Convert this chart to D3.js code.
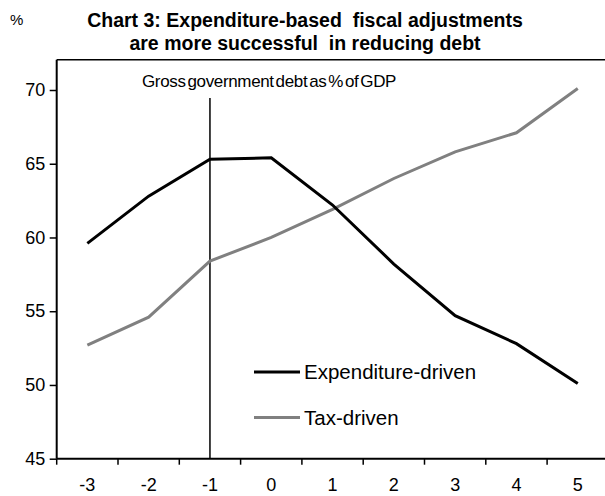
<!DOCTYPE html>
<html>
<head>
<meta charset="utf-8">
<script src="https://cdn.jsdelivr.net/npm/d3@7/dist/d3.min.js"></script>
<style>
  html, body { margin: 0; padding: 0; background: #fff; }
  svg { display: block; font-family: "Liberation Sans", Arial, sans-serif; }
</style>
</head>
<body>
<svg id="chart" width="605" height="496"></svg>
<script>
// Years relative to the start of the fiscal adjustment
const years = ["-3", "-2", "-1", "0", "1", "2", "3", "4", "5"];
// Gross government debt, % of GDP
const expenditureDriven = [59.6, 62.8, 65.3, 65.4, 62.2, 58.2, 54.7, 52.8, 50.1];
const taxDriven = [52.7, 54.6, 58.4, 60.0, 61.9, 64.0, 65.8, 67.1, 70.1];
const yTicks = [45, 50, 55, 60, 65, 70];
const seriesNames = ["Expenditure-driven", "Tax-driven"];
const markerYear = "-1";

(function draw() {
  const svg = d3.select("#chart");
  const font = "Liberation Sans, Arial, sans-serif";

  const plotLeft = 56.7, plotBottom = 458.7, plotTop = 59.7, step = 61.3;
  const x = d3.scaleBand().domain(years).range([plotLeft, plotLeft + step * years.length]).padding(0);
  const y = d3.scaleLinear().domain([45, 70]).range([plotBottom, 90]);
  const xc = d => x(d) + x.bandwidth() / 2;

  // Frame: top border and left/bottom axes
  svg.append("line").attr("x1", plotLeft).attr("x2", 605).attr("y1", plotTop).attr("y2", plotTop)
    .attr("stroke", "#000").attr("stroke-width", 1.6);

  const yAxis = svg.append("g").attr("transform", `translate(${plotLeft},0)`)
    .call(d3.axisLeft(y).tickValues(yTicks).tickSize(7).tickPadding(4.5).tickSizeOuter(0));
  yAxis.select(".domain").remove();
  yAxis.selectAll(".tick line").attr("stroke-width", 1.5);
  yAxis.selectAll("text").attr("font-size", 18).attr("fill", "#000").attr("font-family", font);
  svg.append("line").attr("x1", plotLeft).attr("x2", plotLeft).attr("y1", plotTop).attr("y2", plotBottom)
    .attr("stroke", "#000").attr("stroke-width", 2);

  // X axis: ticks at category boundaries, labels centred in each band
  const xAxis = svg.append("g").attr("transform", `translate(0,${plotBottom})`)
    .call(d3.axisBottom(x).tickSize(0).tickPadding(20));
  xAxis.select(".domain").remove();
  xAxis.selectAll("text").attr("font-size", 18).attr("fill", "#000").attr("font-family", font);
  const boundaries = d3.range(years.length + 1).map(i => plotLeft + i * x.bandwidth());
  svg.append("g").selectAll("line").data(boundaries).join("line")
    .attr("x1", d => d).attr("x2", d => d).attr("y1", plotBottom).attr("y2", plotBottom + 6)
    .attr("stroke", "#000").attr("stroke-width", 1.5);
  svg.append("line").attr("x1", plotLeft).attr("x2", 605).attr("y1", plotBottom).attr("y2", plotBottom)
    .attr("stroke", "#000").attr("stroke-width", 2);

  // Vertical marker at year -1
  svg.append("line").attr("x1", xc(markerYear)).attr("x2", xc(markerYear))
    .attr("y1", 98).attr("y2", plotBottom).attr("stroke", "#000").attr("stroke-width", 1.5);

  // Series lines
  const line = d3.line().x((d, i) => xc(years[i])).y(d => y(d));
  svg.append("path").datum(taxDriven).attr("d", line).attr("fill", "none")
    .attr("stroke", "#808080").attr("stroke-width", 3);
  svg.append("path").datum(expenditureDriven).attr("d", line).attr("fill", "none")
    .attr("stroke", "#000").attr("stroke-width", 3);

  // Legend
  const legend = [
    { name: seriesNames[0], color: "#000", y: 372 },
    { name: seriesNames[1], color: "#808080", y: 417.5 }
  ];
  const lg = svg.append("g").selectAll("g").data(legend).join("g");
  lg.append("line").attr("x1", 254).attr("x2", 300).attr("y1", d => d.y).attr("y2", d => d.y)
    .attr("stroke", d => d.color).attr("stroke-width", 3);
  lg.append("text").attr("x", 304).attr("y", d => d.y + 7).attr("font-size", 20.5)
    .attr("fill", "#000").text(d => d.name);

  // Titles
  svg.append("text").attr("x", 10).attr("y", 25).attr("font-size", 15).text("%");
  const title = svg.append("text").attr("text-anchor", "middle").attr("font-weight", "bold")
    .attr("font-size", 19.5).attr("fill", "#000");
  title.append("tspan").attr("x", 305).attr("y", 26.5)
    .text("Chart 3: Expenditure-based\u00a0 fiscal adjustments");
  title.append("tspan").attr("x", 305).attr("y", 49.5)
    .text("are more successful\u00a0 in reducing debt");

  svg.append("text").attr("x", 142).attr("y", 87).attr("font-size", 17)
    .attr("word-spacing", -2.5).attr("letter-spacing", -0.35)
    .text("Gross government debt as % of GDP");
})();
</script>
</body>
</html>
